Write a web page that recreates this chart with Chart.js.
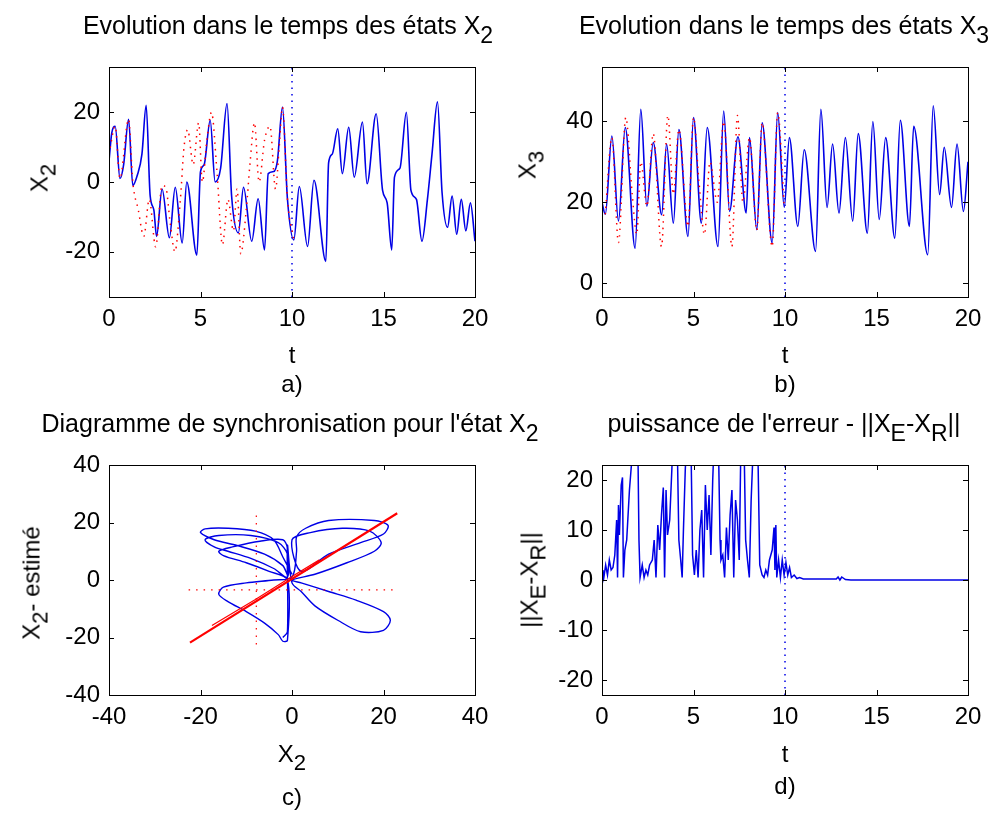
<!DOCTYPE html>
<html><head><meta charset="utf-8">
<script src="https://cdn.jsdelivr.net/npm/chart.js@4.4.0/dist/chart.umd.min.js"></script>
<style>
body{margin:0;background:#fff;width:998px;height:813px;position:relative;overflow:hidden;font-family:"Liberation Sans",Arial,sans-serif;color:#000;}
canvas{position:absolute;left:0;top:0;}
.lbl{position:absolute;white-space:nowrap;font-size:24px;line-height:24px;transform:translateX(-50%);}
.ttl{font-size:25px;line-height:24px;}
.rot{position:absolute;white-space:nowrap;font-size:24px;line-height:24px;transform:translate(-50%,-50%) rotate(-90deg);}
.s{position:relative;top:0.38em;font-size:0.92em;}
</style></head><body>
<canvas id="ca" width="998" height="813"></canvas>
<canvas id="cb" width="998" height="813"></canvas>
<canvas id="cc" width="998" height="813"></canvas>
<canvas id="cd" width="998" height="813"></canvas>

<div class="lbl ttl" style="left:288px;top:13px">Evolution dans le temps des états X<span class="s">2</span></div>
<div class="lbl ttl" style="left:784px;top:13px">Evolution dans le temps des états X<span class="s">3</span></div>
<div class="lbl ttl" style="left:290px;top:411px">Diagramme de synchronisation pour l'état X<span class="s">2</span></div>
<div class="lbl ttl" style="left:784px;top:411px">puissance de l'erreur - ||X<span class="s">E</span>-X<span class="s">R</span>||</div>

<div class="lbl" style="left:292px;top:343px">t</div>
<div class="lbl" style="left:292px;top:372px">a)</div>
<div class="lbl" style="left:785px;top:343px">t</div>
<div class="lbl" style="left:785px;top:372px">b)</div>
<div class="lbl" style="left:292px;top:742px">X<span class="s">2</span></div>
<div class="lbl" style="left:292px;top:785px">c)</div>
<div class="lbl" style="left:785px;top:742px">t</div>
<div class="lbl" style="left:785px;top:774px">d)</div>

<div class="rot" style="left:40px;top:178px">X<span class="s">2</span></div>
<div class="rot" style="left:528px;top:165px">X<span class="s">3</span></div>
<div class="rot" style="left:32px;top:583px">X<span class="s">2</span>- estimé</div>
<div class="rot" style="left:530px;top:580px">||X<span class="s">E</span>-X<span class="s">R</span>||</div>

<script>
// ---------- data ----------
const tTicks = [0, 5, 10, 15, 20];
const x2Ticks = [-20, 0, 20];
const x3Ticks = [0, 20, 40];
const phaseTicks = [-40, -20, 0, 20, 40];
const errTicks = [-20, -10, 0, 10, 20];

const tRange = [0, 20];
const x2Range = [-33, 33];
const x3Range = [-3.5, 53.5];
const phaseRange = [-40, 40];
const errRange = [-23, 23];

const syncT = [10, 10];

// a) state X2 (real) and its estimate
const tX2 = [0, 0.15, 0.34, 0.6, 0.8, 1.07, 1.3, 1.55, 1.8, 2.03, 2.25, 2.45, 2.6, 2.9, 3.3, 3.62, 4.0, 4.25, 4.8, 5.0, 5.2, 5.53, 5.8, 6.1, 6.45, 6.7, 7.07, 7.35, 7.8, 8.15, 8.5, 8.7, 9.0, 9.2, 9.48, 9.75, 10.1, 10.4, 10.85, 11.2, 11.85, 12.0, 12.2, 12.5, 12.75, 13.1, 13.4, 13.85, 14.1, 14.6, 14.95, 15.2, 15.45, 15.6, 15.9, 16.25, 16.5, 16.8, 17.1, 17.4, 17.65, 17.95, 18.2, 18.5, 18.75, 19.0, 19.25, 19.5, 19.75, 20];
const x2 = [6, 14, 16, 1, 5, 18, -1, 2, 8, 22, -4, -8, -15.6, -2, -16, -1.5, -17.5, 0, -21, 3, 5, 17.7, 0, 4, 22.5, -4, -14.6, -1.5, -17, -4.8, -19.5, 2.4, 3, 6, 21.5, -4.8, -16.6, -1.3, -18.5, 0.5, -22.8, 5.5, 8, 15.3, 2.4, 15.7, 1.4, 17.2, -0.5, 19.6, -2.4, -6, -19.5, 1.4, 4, 20, -2.4, -5, -17, -5, 8, 23, -3, -13, -4, -15, -5, -14, -6, -17];
const tX2est = [0, 0.34, 0.6, 1.07, 1.3, 1.6, 1.9, 2.2, 2.55, 2.9, 3.1, 3.35, 3.6, 3.9, 4.1, 4.3, 4.6, 4.9, 5.1, 5.35, 5.6, 5.9, 6.2, 6.5, 6.8, 7.0, 7.2, 7.5, 7.7, 7.95, 8.2, 8.5, 8.8, 9.1, 9.3, 9.48, 9.75, 10.1];
const x2est = [8, 16, 1, 18, 0, -8, -15.6, -5, -18.6, -1, -1.5, -12, -20, -5, 10, 15, 5, 17, 0, 12, 20, 3, -18, -5, -14, -2, -20.6, -8, 5, 17, 0, 12, 16, -2, 10, 21.5, -4.8, -16.6];

// b) state X3 (real) and its estimate
const tX3 = [0, 0.18, 0.54, 0.9, 1.27, 1.81, 2.12, 2.45, 2.8, 3.26, 3.53, 3.9, 4.2, 4.7, 5.0, 5.43, 5.75, 6.34, 6.65, 6.97, 7.43, 7.88, 8.06, 8.46, 8.75, 9.3, 9.6, 9.96, 10.24, 10.7, 11.05, 11.67, 11.96, 12.3, 12.6, 12.95, 13.3, 13.7, 14.0, 14.5, 14.8, 15.15, 15.5, 16.0, 16.3, 16.8, 17.03, 17.8, 18.1, 18.45, 18.7, 19.1, 19.4, 19.75, 20];
const x3 = [20, 17, 36.4, 15.3, 38.5, 8.6, 43, 19, 34.8, 16.9, 34.4, 14.8, 38, 11.5, 41, 14.8, 38.5, 9, 42.6, 17.7, 36.2, 17.3, 36, 13.2, 39.7, 9.9, 42.2, 18.7, 36, 14, 33, 7.8, 43, 18.7, 34.4, 17.3, 36, 15.3, 37, 12.3, 40, 15.7, 36, 11.1, 40.3, 14, 38.8, 7, 43.9, 21.9, 33.6, 18.7, 34.4, 17.7, 30];
const tX3est = [0.18, 0.54, 0.9, 1.3, 1.65, 1.9, 2.12, 2.45, 2.8, 3.25, 3.6, 3.9, 4.2, 4.7, 5.0, 5.3, 5.6, 5.9, 6.3, 6.65, 7.1, 7.4, 7.7, 8.06, 8.46, 8.75, 9.3, 9.6, 9.96];
const x3est = [17, 36, 10, 41, 22, 12, 30, 19, 37, 9, 41.5, 22, 38, 14, 41, 25, 12, 30, 20, 40, 9, 41.5, 20, 36, 13, 39.7, 9, 42.2, 18.7];

// c) synchronisation diagram
const phaseX = [0, -2, -4, -8, -14, -19, -20, -17, -12, -6, -2, -1, -1, -3, -9, -16, -19, -17, -14, -9, -4, -1, -1, -2, -7, -13, -16, -15, -10, -5, -1, -1, -2, -3, -6, -10, -14, -16, -15, -10, -4, 0, 1, 1, 3, 8, 18, 21, 20, 15, 8, 2, 0, 4, 11, 17, 19.5, 18, 12, 5, 0, 2, 8, 14, 20, 21.5, 20, 15, 10, 5, 2, 0, -1, -1, -2];
const phaseY = [2, 8, 14, 17, 18, 17.8, 16.5, 14, 12, 9, 5, 2, 9, 13, 15.5, 15.5, 14, 11.5, 10, 7.5, 4, 1, 11, 14, 13.5, 11.5, 10, 8.5, 6, 3, 0, -21, -21.3, -19, -15, -11, -7.5, -5, -2.5, -1, 0, 1, 10, 15, 18, 20.7, 20.7, 19, 16, 13, 9, 3, 14, 16.5, 18, 17, 13, 10, 6, 2, 0, -1, -4, -7, -11, -14, -17.5, -18, -14, -9, -4, -1, 12, -18, -20];
const diagX = [-22.3, 23];
const diagY = [-21.8, 23.2];
const diag2X = [-17.5, -8, 0, 6];
const diag2Y = [-15.8, -6.8, 1.2, 7];
const crossHX = [-22.6, 23.3];
const crossHY = [-3.4, -3.4];
const crossVX = [-7.8, -7.8];
const crossVY = [-22.4, 23];

// d) error norm
const tErr = [0, 0.05, 0.1, 0.2, 0.3, 0.4, 0.5, 0.6, 0.7, 0.8, 0.85, 0.9, 0.95, 1.05, 1.12, 1.17, 1.25, 1.35, 1.5, 1.65, 1.73, 1.95, 2.02, 2.08, 2.2, 2.3, 2.4, 2.5, 2.6, 2.75, 2.85, 2.95, 3.05, 3.15, 3.25, 3.35, 3.42, 3.5, 3.58, 3.7, 3.85, 3.95, 4.1, 4.2, 4.3, 4.38, 4.45, 4.55, 4.65, 4.85, 4.95, 5.05, 5.15, 5.25, 5.35, 5.45, 5.55, 5.65, 5.75, 5.85, 5.95, 6.05, 6.15, 6.35, 6.45, 6.5, 6.6, 6.7, 6.8, 6.9, 7.0, 7.1, 7.2, 7.3, 7.4, 7.5, 7.6, 7.75, 7.85, 7.95, 8.05, 8.15, 8.3, 8.5, 8.62, 8.75, 8.85, 8.95, 9.05, 9.15, 9.3, 9.4, 9.45, 9.5, 9.55, 9.65, 9.75, 9.85, 9.95, 10.05, 10.15, 10.25, 10.35, 10.5, 10.65, 10.8, 11, 12.8, 12.9, 13.0, 13.1, 13.3, 13.6, 20];
const err = [0, 2, 0.5, 3, 1, 4, 2, 2.5, 5, 12, 0.5, 15, 9, 19, 20.5, 0.5, 6, 8, 18, 25, 30, 30, 8, 0.5, 3, 0.5, 2, 1, 3, 4, 8, 0.5, 11, 6, 13, 18.5, 0.5, 18, 9, 12, 25, 30, 30, 8, 4, 0.5, 10, 22, 30, 30, 5, 1, 6, 0.5, 10, 14, 0.5, 19, 10, 17, 5, 20, 30, 30, 8, 4, 5, 0.5, 10.5, 4, 13, 18, 0.5, 16, 12, 4, 30, 30, 8, 4, 0.5, 16, 30, 30, 3, 1, 0.5, 2, 1, 4, 6, 10.5, 2, 11, 0.5, 4, 0.5, 4, 1, 3.5, 1, 2.5, 0.5, 1, 0.3, 0.5, 0.2, 0.2, 0.6, 0, 0.6, 0.1, 0, 0];

// ---------- drawing ----------
const FONT = {family: '"Liberation Sans", Arial, sans-serif', size: 24};
const BLUE = '#0000e6';
const RED = '#ff0000';
const YW = 60, XH = 40;

const mk = (xs, ys) => xs.map((v, i) => ({x: v, y: ys[i]}));
const line = (xs, ys, color, width, dash, extra) => Object.assign({
  data: mk(xs, ys), showLine: true, borderColor: color, backgroundColor: color,
  borderWidth: width, borderDash: dash || [], pointRadius: 0, fill: false, tension: 0, clip: 0
}, extra || {});

const boxPlugin = {
  id: 'mbox',
  afterDatasetsDraw(chart) {
    const {ctx, chartArea: a, scales: {x, y}} = chart;
    ctx.save();
    ctx.strokeStyle = '#000';
    ctx.lineWidth = 1;
    ctx.setLineDash([]);
    ctx.strokeRect(Math.round(a.left) + 0.5, Math.round(a.top) + 0.5, Math.round(a.right - a.left), Math.round(a.bottom - a.top));
    const L = 5;
    ctx.beginPath();
    x.ticks.forEach(t => {
      const p = Math.round(x.getPixelForValue(t.value)) + 0.5;
      ctx.moveTo(p, a.bottom); ctx.lineTo(p, a.bottom - L);
      ctx.moveTo(p, a.top); ctx.lineTo(p, a.top + L);
    });
    y.ticks.forEach(t => {
      const p = Math.round(y.getPixelForValue(t.value)) + 0.5;
      ctx.moveTo(a.left, p); ctx.lineTo(a.left + L, p);
      ctx.moveTo(a.right, p); ctx.lineTo(a.right - L, p);
    });
    ctx.stroke();
    ctx.restore();
  }
};

function makeChart(id, box, xr, yr, xt, yt, datasets) {
  const [L, T, R, B] = box;
  return new Chart(document.getElementById(id), {
    type: 'scatter',
    data: {datasets},
    options: {
      responsive: false, animation: false, devicePixelRatio: 1,
      layout: {padding: {left: L - YW, top: T, right: 998 - R, bottom: 813 - B - XH}},
      plugins: {legend: {display: false}, tooltip: {enabled: false}, title: {display: false}},
      events: [],
      scales: {
        x: {type: 'linear', min: xr[0], max: xr[1],
            afterBuildTicks: s => { s.ticks = xt.map(v => ({value: v})); },
            afterFit: s => { s.height = XH; },
            grid: {display: false, drawTicks: false}, border: {display: false},
            ticks: {font: FONT, color: '#000', padding: 8, maxRotation: 0, autoSkip: false}},
        y: {type: 'linear', min: yr[0], max: yr[1],
            afterBuildTicks: s => { s.ticks = yt.map(v => ({value: v})); },
            afterFit: s => { s.width = YW; },
            grid: {display: false, drawTicks: false}, border: {display: false},
            ticks: {font: FONT, color: '#000', padding: 9, autoSkip: false}}
      }
    },
    plugins: [boxPlugin]
  });
}

const smooth = {cubicInterpolationMode: 'monotone'};

makeChart('ca', [109, 67, 475, 297], tRange, x2Range, tTicks, x2Ticks, [
  line(tX2est, x2est, RED, 1.5, [1.5, 5], smooth),
  line(syncT, x2Range, BLUE, 1.5, [1.5, 5]),
  line(tX2, x2, BLUE, 1.6, null, smooth)
]);
makeChart('cb', [602, 67, 968, 297], tRange, x3Range, tTicks, x3Ticks, [
  line(tX3est, x3est, RED, 1.5, [1.5, 5], smooth),
  line(syncT, x3Range, BLUE, 1.5, [1.5, 5]),
  line(tX3, x3, BLUE, 1.6, null, smooth)
]);
makeChart('cc', [109, 465, 475, 695], phaseRange, phaseRange, phaseTicks, phaseTicks, [
  line(diagX, diagY, RED, 2.2),
  line(diag2X, diag2Y, RED, 1.2),
  line(crossHX, crossHY, RED, 1.2, [1.5, 6]),
  line(crossVX, crossVY, RED, 1.2, [1.5, 6]),
  line(phaseX, phaseY, BLUE, 1.4, null, {tension: 0.3})
]);
makeChart('cd', [602, 465, 968, 695], tRange, errRange, tTicks, errTicks, [
  line(syncT, errRange, BLUE, 1.5, [1.5, 5]),
  line(tErr, err, BLUE, 1.5)
]);
</script>
</body></html>
